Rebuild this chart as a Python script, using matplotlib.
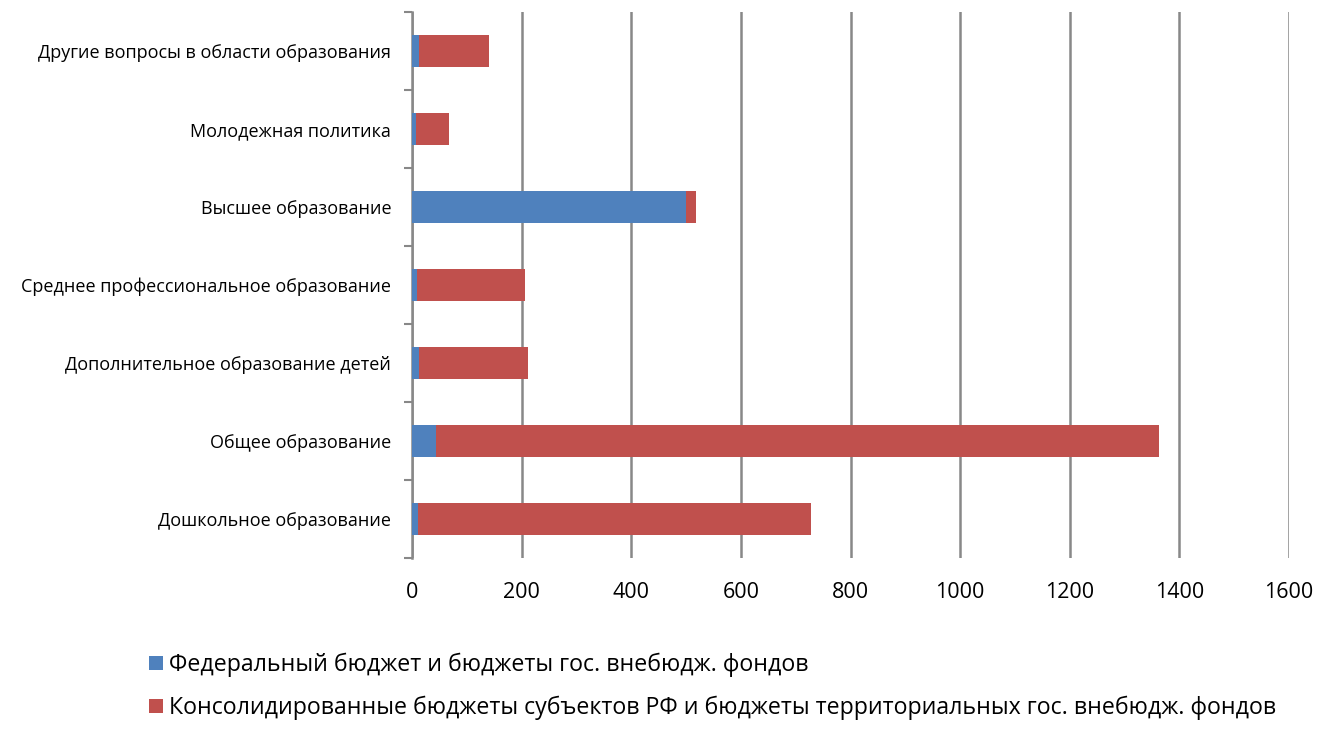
import matplotlib
matplotlib.use("Agg")
import matplotlib.pyplot as plt
import numpy as np

categories = ["Дошкольное образование", "Общее образование", "Дополнительное образование детей",
              "Среднее профессиональное образование", "Высшее образование",
              "Молодежная политика", "Другие вопросы в области образования"]
federal = [11, 44, 13, 10, 499, 7, 13]
totals = [728, 1362, 212, 207, 518, 67, 140]
regional = [t - f for t, f in zip(totals, federal)]
xticks = [0, 200, 400, 600, 800, 1000, 1200, 1400, 1600]
legend_labels = ["Федеральный бюджет и бюджеты гос. внебюдж. фондов",
                 "Консолидированные бюджеты субъектов РФ и бюджеты территориальных гос. внебюдж. фондов"]

plt.rcParams['font.family'] = ['Open Sans', 'DejaVu Sans']

fig = plt.figure(figsize=(13.19, 7.46), dpi=100)
ax = fig.add_axes([412/1319, 1-558/746, 877/1319, 546/746])

y = np.arange(len(categories))
b1 = ax.barh(y, federal, height=0.4, color='#4F81BD', zorder=3)
b2 = ax.barh(y, regional, left=federal, height=0.4, color='#C0504D', zorder=3)

ax.set_xlim(0, 1600)
ax.set_ylim(-0.5, len(categories) - 0.5)
ax.set_xticks(xticks)
ax.set_xticklabels([str(v) for v in xticks], fontsize=15.5)
ax.set_yticks(y)
ax.set_yticklabels(categories, fontsize=13)
ax.tick_params(axis='y', length=0, pad=15)
ax.set_yticks(np.arange(-0.5, len(categories), 1), minor=True)
ax.tick_params(axis='y', which='minor', length=6, width=1.5, color='#888888')
ax.tick_params(axis='x', length=0, pad=17)
ax.grid(axis='x', color='#888888', linewidth=1.8, zorder=0)
for s in ['top', 'right', 'bottom']:
    ax.spines[s].set_visible(False)
ax.spines['left'].set_color('#888888')
ax.spines['left'].set_linewidth(1.8)

fig.legend([b1, b2], legend_labels, loc='upper left', bbox_to_anchor=(128/1319, 1-632/746),
           frameon=False, fontsize=16.7, handlelength=0.6, handleheight=0.6, handletextpad=0.25,
           labelspacing=0.8)

fig.savefig("out.png", dpi=100)
